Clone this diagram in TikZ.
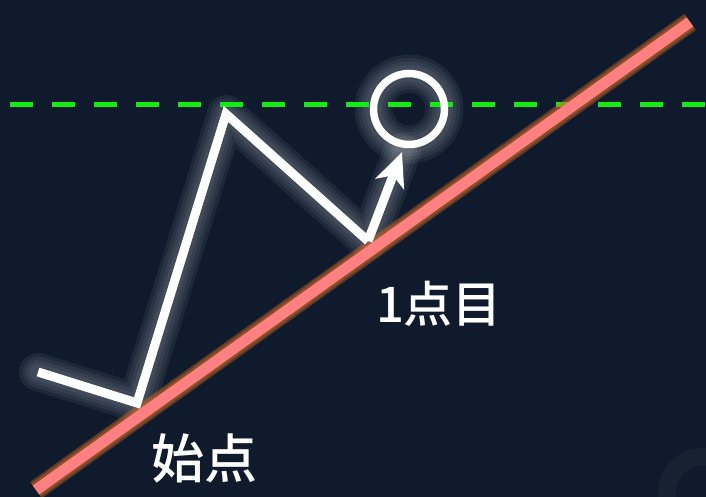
\documentclass[tikz,border=0pt]{standalone}
\usepackage{fontspec}
\newfontfamily\jpfont{Noto Sans CJK JP}[BoldFont=* Medium]
\usetikzlibrary{arrows.meta}
\definecolor{navy}{RGB}{15,27,45}
\definecolor{trendred}{RGB}{255,128,128}
\definecolor{trendglow}{RGB}{210,105,35}
\definecolor{levelgreen}{RGB}{20,235,20}
\definecolor{markfaint}{RGB}{22,33,50}
\tikzset{
	wline/.style={draw=white,line width=9pt,miter limit=20},
	wglow/.style={draw=white,line width=#1,opacity=0.06,line join=round,line cap=round},
	tline/.style={draw=trendred,line width=11pt},
	tglow/.style={draw=trendglow,line width=#1,opacity=0.4},
	lvl/.style={draw=levelgreen,line width=5pt,dash pattern=on 23pt off 19pt},
	lbl/.style={text=white,font=\jpfont\bfseries,inner sep=0pt}
}
\begin{document}
\begin{tikzpicture}[x=1pt,y=-1pt,
			upar/.style={-{Stealth[length=34pt,width=30pt,inset=9pt]},wline}]
			\fill[navy] (0,0) rectangle (706,497);
			\useasboundingbox (0,0) rectangle (706,497);
			\draw[markfaint,line width=18pt] (702,492) circle (35);
			\coordinate (t0) at (36,490);
			\coordinate (t1) at (690,22);
			\coordinate (g0) at (10,105);
			\coordinate (g1) at (706,105);
			\coordinate (p0) at (38,372);
			\coordinate (p1) at (137,403);
			\coordinate (p2) at (226,114);
			\coordinate (p3) at (368,241);
			\coordinate (tip) at (402,152);
			\node[circle,minimum size=71pt,inner sep=0pt] (goal) at (409,109) {};
			\foreach \w in {38,31,24,17} {
				\draw[wglow=\w pt] (p0) -- (p1) -- (p2) -- (p3) -- (tip);
				\draw[wglow=\w pt] (goal) circle (35.5);
			}
			\draw[lvl] (g0) -- (g1);
			\foreach \w in {20,16} \draw[tglow=\w pt] (t0) -- (t1);
			\draw[wline] (p0) -- (p1) -- (p2) -- (p3);
			\draw[upar] (p3) -- (tip);
			\draw[draw=white,line width=7.5pt] (goal) circle (35.5);
			\draw[tline] (t0) -- (t1);
			\node[lbl,font=\jpfont\bfseries\fontsize{49}{49}\selectfont] (first) at (439,304) {1点目};
			\node[lbl,font=\jpfont\bfseries\fontsize{53}{53}\selectfont] (start) at (204,458) {始点};
		\end{tikzpicture}
\end{document}
